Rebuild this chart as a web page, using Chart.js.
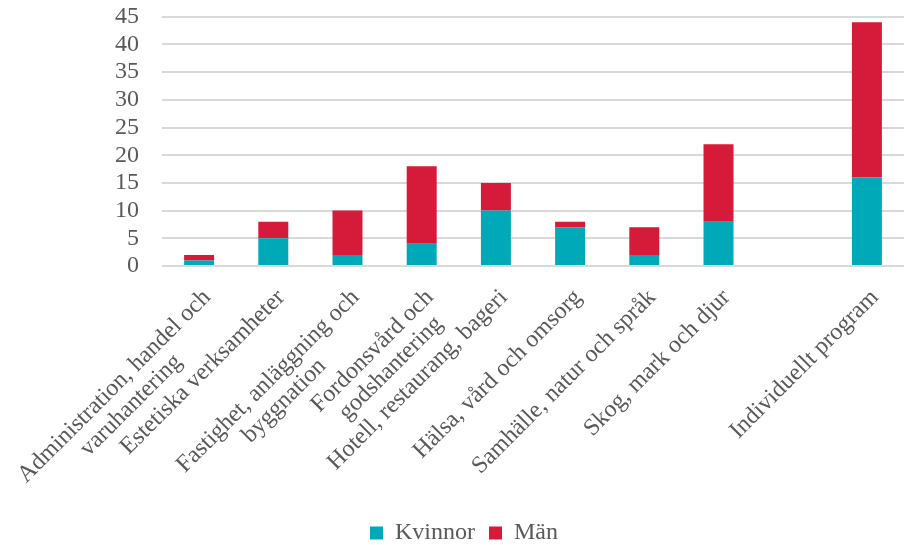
<!DOCTYPE html>
<html>
<head>
<meta charset="utf-8">
<script src="https://cdn.jsdelivr.net/npm/chart.js@4"></script>
<style>
  html, body { margin: 0; padding: 0; background: #ffffff; }
  #wrap { width: 904px; height: 545px; }
</style>
</head>
<body>
<div id="wrap"><canvas id="c" width="904" height="545"></canvas></div>
<script>
const categories = [
  ['Administration, handel och', 'varuhantering'],
  ['Estetiska verksamheter'],
  ['Fastighet, anläggning och', 'byggnation'],
  ['Fordonsvård och', 'godshantering'],
  ['Hotell, restaurang, bageri'],
  ['Hälsa, vård och omsorg'],
  ['Samhälle, natur och språk'],
  ['Skog, mark och djur'],
  [''],
  ['Individuellt program']
];
const seriesNames = ['Kvinnor', 'Män'];
const kvinnor = [1, 5, 2, 4, 10, 7, 2, 8, null, 16];
const man = [1, 3, 8, 14, 5, 1, 5, 14, null, 28];
const yMin = 0, yMax = 45, yStep = 5;

const FONT = '"Liberation Serif", "Times New Roman", serif';
const TEXT = '#595959';

// center the wrapped lines of each label (like the original), using trailing spaces
const mctx = document.createElement('canvas').getContext('2d');
mctx.font = '24px ' + FONT;
const spaceW = mctx.measureText(' ').width;
const labels = categories.map(lines => {
  if (lines.length === 1) return lines[0];
  const widths = lines.map(l => mctx.measureText(l).width);
  const maxW = Math.max(...widths);
  return lines.map((l, i) => l + ' '.repeat(Math.round((maxW - widths[i]) / 2 / spaceW)));
});

new Chart(document.getElementById('c'), {
  type: 'bar',
  data: {
    labels: labels,
    datasets: [
      { label: seriesNames[0], data: kvinnor, backgroundColor: '#00A9B8', borderWidth: 0,
        categoryPercentage: 0.8, barPercentage: 0.505 },
      { label: seriesNames[1], data: man, backgroundColor: '#D51A3A', borderWidth: 0,
        categoryPercentage: 0.8, barPercentage: 0.505 }
    ]
  },
  options: {
    responsive: false,
    animation: false,
    layout: { padding: { left: 24, right: 0, top: 0, bottom: -10 } },
    plugins: {
      tooltip: { enabled: false },
      legend: {
        position: 'bottom',
        labels: {
          font: { family: FONT, size: 24 },
          color: TEXT,
          boxWidth: 13,
          boxHeight: 13,
          padding: 14
        }
      }
    },
    scales: {
      x: {
        stacked: true,
        border: { display: false },
        grid: { display: true, drawOnChartArea: false, drawTicks: true, tickLength: 16,
                color: 'rgba(0,0,0,0)', tickColor: 'rgba(0,0,0,0)' },
        ticks: {
          font: { family: FONT, size: 24, lineHeight: 1.05 },
          color: TEXT,
          minRotation: 45,
          maxRotation: 45,
          autoSkip: false,
          padding: 3,
          labelOffset: 8
        },
        afterFit: (scale) => { scale.height = 241; }
      },
      y: {
        stacked: true,
        min: yMin,
        max: yMax,
        border: { display: false },
        grid: { color: '#D9D9D9', lineWidth: 2, drawTicks: true, tickLength: 20,
                tickColor: 'rgba(0,0,0,0)' },
        ticks: {
          stepSize: yStep,
          autoSkip: false,
          font: { family: FONT, size: 24, lineHeight: 1.15 },
          color: TEXT,
          padding: 3
        },
        afterFit: (scale) => { scale.width = 138; }
      }
    }
  }
});
</script>
</body>
</html>
